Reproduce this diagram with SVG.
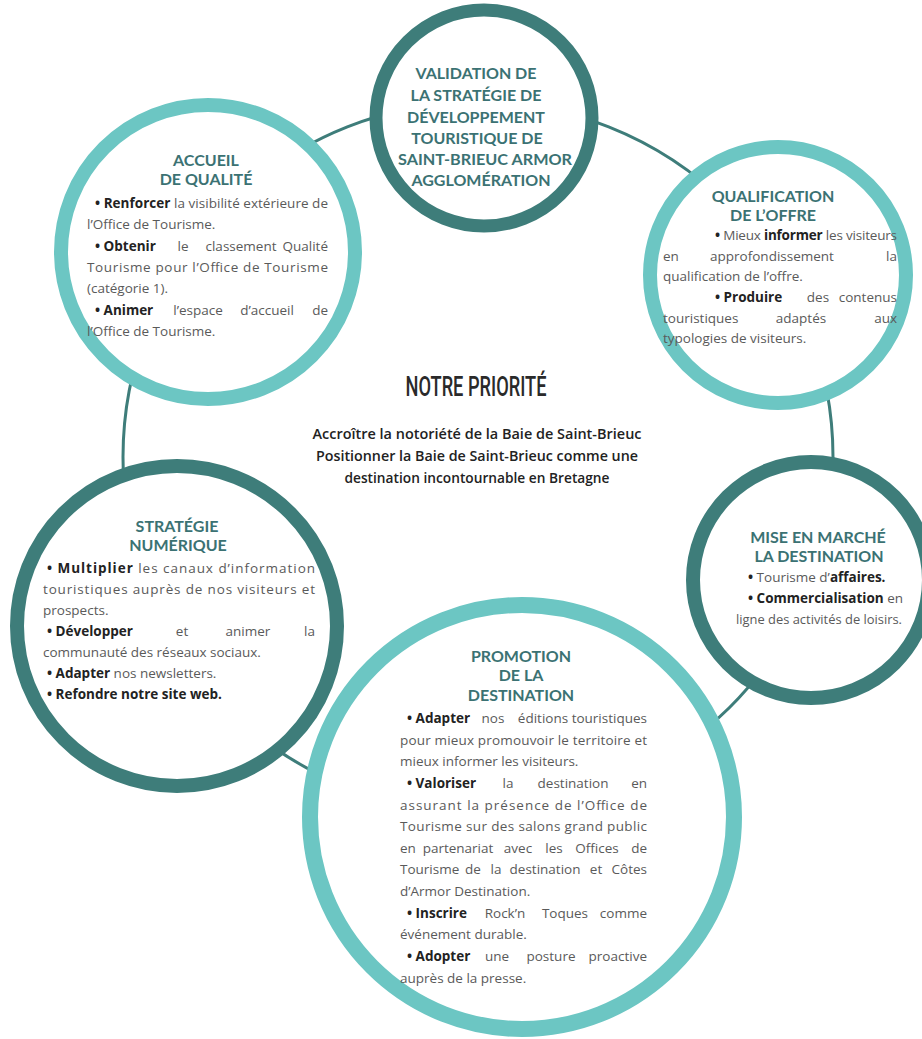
<svg xmlns="http://www.w3.org/2000/svg" width="922" height="1039" viewBox="0 0 922 1039">
<style>
.dk{fill:#fff;stroke:#3e7d7a;stroke-width:14}
.lt{fill:#fff;stroke:#6cc6c3;stroke-width:14}
.con{fill:none;stroke:#3e7d7a;stroke-width:3}
.t{font-family:Lato,'Open Sans',sans-serif;font-weight:700;font-size:16px;fill:#3b7273;text-anchor:middle}
.b{font-family:'Open Sans','Liberation Sans',sans-serif;font-size:13.5px;fill:#5a5a5a}
.k{font-weight:700;fill:#222}
.m{text-anchor:middle}
.e{text-anchor:end}
.c{font-family:'Open Sans','Liberation Sans',sans-serif;font-weight:600;font-size:14px;fill:#222;text-anchor:middle}
.h{font-family:Roboto,'Liberation Sans',sans-serif;font-weight:500;font-size:28px;fill:#2a2a2a;text-anchor:middle}
</style>
<rect width="922" height="1039" fill="#fff"/>
<g id="connectors">
<circle class="con" cx="478" cy="457" r="355"/>
</g>
<g id="validation">
<circle class="dk" cx="484" cy="118" r="108" style="stroke-width:13"/>
<text class="t" x="476" y="79">VALIDATION DE</text>
<text class="t" x="476" y="101">LA STRATÉGIE DE</text>
<text class="t" x="476" y="123">DÉVELOPPEMENT</text>
<text class="t" x="477" y="144">TOURISTIQUE DE</text>
<text class="t" x="485" y="165" textLength="174" lengthAdjust="spacingAndGlyphs">SAINT-BRIEUC ARMOR</text>
<text class="t" x="481" y="186">AGGLOMÉRATION</text>
</g>
<g id="accueil">
<circle class="lt" cx="208" cy="252" r="147"/>
<text class="t" x="206" y="166">ACCUEIL</text>
<text class="t" x="206" y="185">DE QUALITÉ</text>
<g class="b">
<text x="95" y="208" textLength="233" lengthAdjust="spacing"><tspan class="k">• Renforcer</tspan> la visibilité extérieure de</text>
<text x="87" y="229">l’Office de Tourisme.</text>
<text x="95" y="251"><tspan class="k">• Obtenir</tspan></text>
<text class="m" x="183" y="251">le</text>
<text class="m" x="241" y="251">classement</text>
<text class="e" x="328" y="251">Qualité</text>
<text x="87" y="272" textLength="241" lengthAdjust="spacing">Tourisme pour l’Office de Tourisme</text>
<text x="87" y="293">(catégorie 1).</text>
<text x="95" y="315"><tspan class="k">• Animer</tspan></text>
<text class="m" x="198" y="315">l’espace</text>
<text class="m" x="267" y="315">d’accueil</text>
<text class="e" x="328" y="315">de</text>
<text x="87" y="336">l’Office de Tourisme.</text>
</g>
</g>
<g id="qualification">
<circle class="lt" cx="778" cy="275" r="128"/>
<text class="t" x="773" y="202">QUALIFICATION</text>
<text class="t" x="773" y="221">DE L’OFFRE</text>
<g class="b">
<text x="715" y="240" textLength="182" lengthAdjust="spacing"><tspan class="k">•</tspan> Mieux <tspan class="k">informer</tspan> les visiteurs</text>
<text x="663" y="261">en</text>
<text class="m" x="772" y="261">approfondissement</text>
<text class="e" x="897" y="261">la</text>
<text x="663" y="281">qualification de l’offre.</text>
<text x="715" y="302"><tspan class="k">• Produire</tspan></text>
<text class="m" x="818" y="302">des</text>
<text class="e" x="897" y="302">contenus</text>
<text x="663" y="323">touristiques</text>
<text class="m" x="801" y="323">adaptés</text>
<text class="e" x="897" y="323">aux</text>
<text x="663" y="343">typologies de visiteurs.</text>
</g>
</g>
<g id="priorite">
<text class="h" x="476" y="396" textLength="141" lengthAdjust="spacingAndGlyphs">NOTRE PRIORITÉ</text>
<text class="c" x="477" y="439" textLength="329" lengthAdjust="spacingAndGlyphs">Accroître la notoriété de la Baie de Saint-Brieuc</text>
<text class="c" x="477" y="461" textLength="322" lengthAdjust="spacingAndGlyphs">Positionner la Baie de Saint-Brieuc comme une</text>
<text class="c" x="477" y="483" textLength="265" lengthAdjust="spacingAndGlyphs">destination incontournable en Bretagne</text>
</g>
<g id="strategie">
<circle class="dk" cx="177" cy="626" r="160"/>
<text class="t" x="177" y="532">STRATÉGIE</text>
<text class="t" x="178" y="551">NUMÉRIQUE</text>
<g class="b">
<text x="47" y="573" textLength="268" lengthAdjust="spacing"><tspan class="k">• Multiplier</tspan> les canaux d’information</text>
<text x="43" y="594" textLength="272" lengthAdjust="spacing">touristiques auprès de nos visiteurs et</text>
<text x="43" y="615">prospects.</text>
<text x="47" y="636"><tspan class="k">• Développer</tspan></text>
<text class="m" x="182" y="636">et</text>
<text class="m" x="248" y="636">animer</text>
<text class="e" x="315" y="636">la</text>
<text x="43" y="657">communauté des réseaux sociaux.</text>
<text x="47" y="678"><tspan class="k">• Adapter</tspan> nos newsletters.</text>
<text x="47" y="699"><tspan class="k">• Refondre notre site web.</tspan></text>
</g>
</g>
<g id="mise">
<circle class="dk" cx="811" cy="580" r="118"/>
<text class="t" x="818" y="543">MISE EN MARCHÉ</text>
<text class="t" x="819" y="562">LA DESTINATION</text>
<g class="b">
<text x="748" y="582"><tspan class="k">•</tspan> Tourisme d’<tspan class="k">affaires.</tspan></text>
<text x="748" y="603"><tspan class="k">• Commercialisation</tspan> en</text>
<text x="736" y="624" textLength="166" lengthAdjust="spacingAndGlyphs">ligne des activités de loisirs.</text>
</g>
</g>
<g id="promotion">
<circle class="lt" cx="522" cy="817" r="212" style="stroke-width:16"/>
<text class="t" x="521" y="662">PROMOTION</text>
<text class="t" x="521" y="681">DE LA</text>
<text class="t" x="521" y="701">DESTINATION</text>
<g class="b">
<text x="407" y="723"><tspan class="k">• Adapter</tspan></text>
<text class="m" x="493" y="723">nos</text>
<text class="m" x="543" y="723">éditions</text>
<text class="e" x="647" y="723">touristiques</text>
<text x="400" y="745" textLength="247" lengthAdjust="spacing">pour mieux promouvoir le territoire et</text>
<text x="400" y="766">mieux informer les visiteurs.</text>
<text x="407" y="788"><tspan class="k">• Valoriser</tspan></text>
<text class="m" x="508" y="788">la</text>
<text class="m" x="573" y="788">destination</text>
<text class="e" x="647" y="788">en</text>
<text x="400" y="810" textLength="247" lengthAdjust="spacing">assurant la présence de l’Office de</text>
<text x="400" y="831" textLength="247" lengthAdjust="spacing">Tourisme sur des salons grand public</text>
<text x="400" y="853">en</text>
<text class="m" x="458" y="853">partenariat</text>
<text class="m" x="518" y="853">avec</text>
<text class="m" x="554" y="853">les</text>
<text class="m" x="597" y="853">Offices</text>
<text class="e" x="647" y="853">de</text>
<text x="400" y="874">Tourisme</text>
<text class="m" x="473" y="874">de</text>
<text class="m" x="496" y="874">la</text>
<text class="m" x="545" y="874">destination</text>
<text class="m" x="596" y="874">et</text>
<text class="e" x="647" y="874">Côtes</text>
<text x="400" y="896">d’Armor Destination.</text>
<text x="407" y="918"><tspan class="k">• Inscrire</tspan></text>
<text class="m" x="505" y="918">Rock’n</text>
<text class="m" x="565" y="918">Toques</text>
<text class="e" x="647" y="918">comme</text>
<text x="400" y="939">événement durable.</text>
<text x="407" y="961"><tspan class="k">• Adopter</tspan></text>
<text class="m" x="497" y="961">une</text>
<text class="m" x="551" y="961">posture</text>
<text class="e" x="647" y="961">proactive</text>
<text x="400" y="983">auprès de la presse.</text>
</g>
</g>
</svg>
